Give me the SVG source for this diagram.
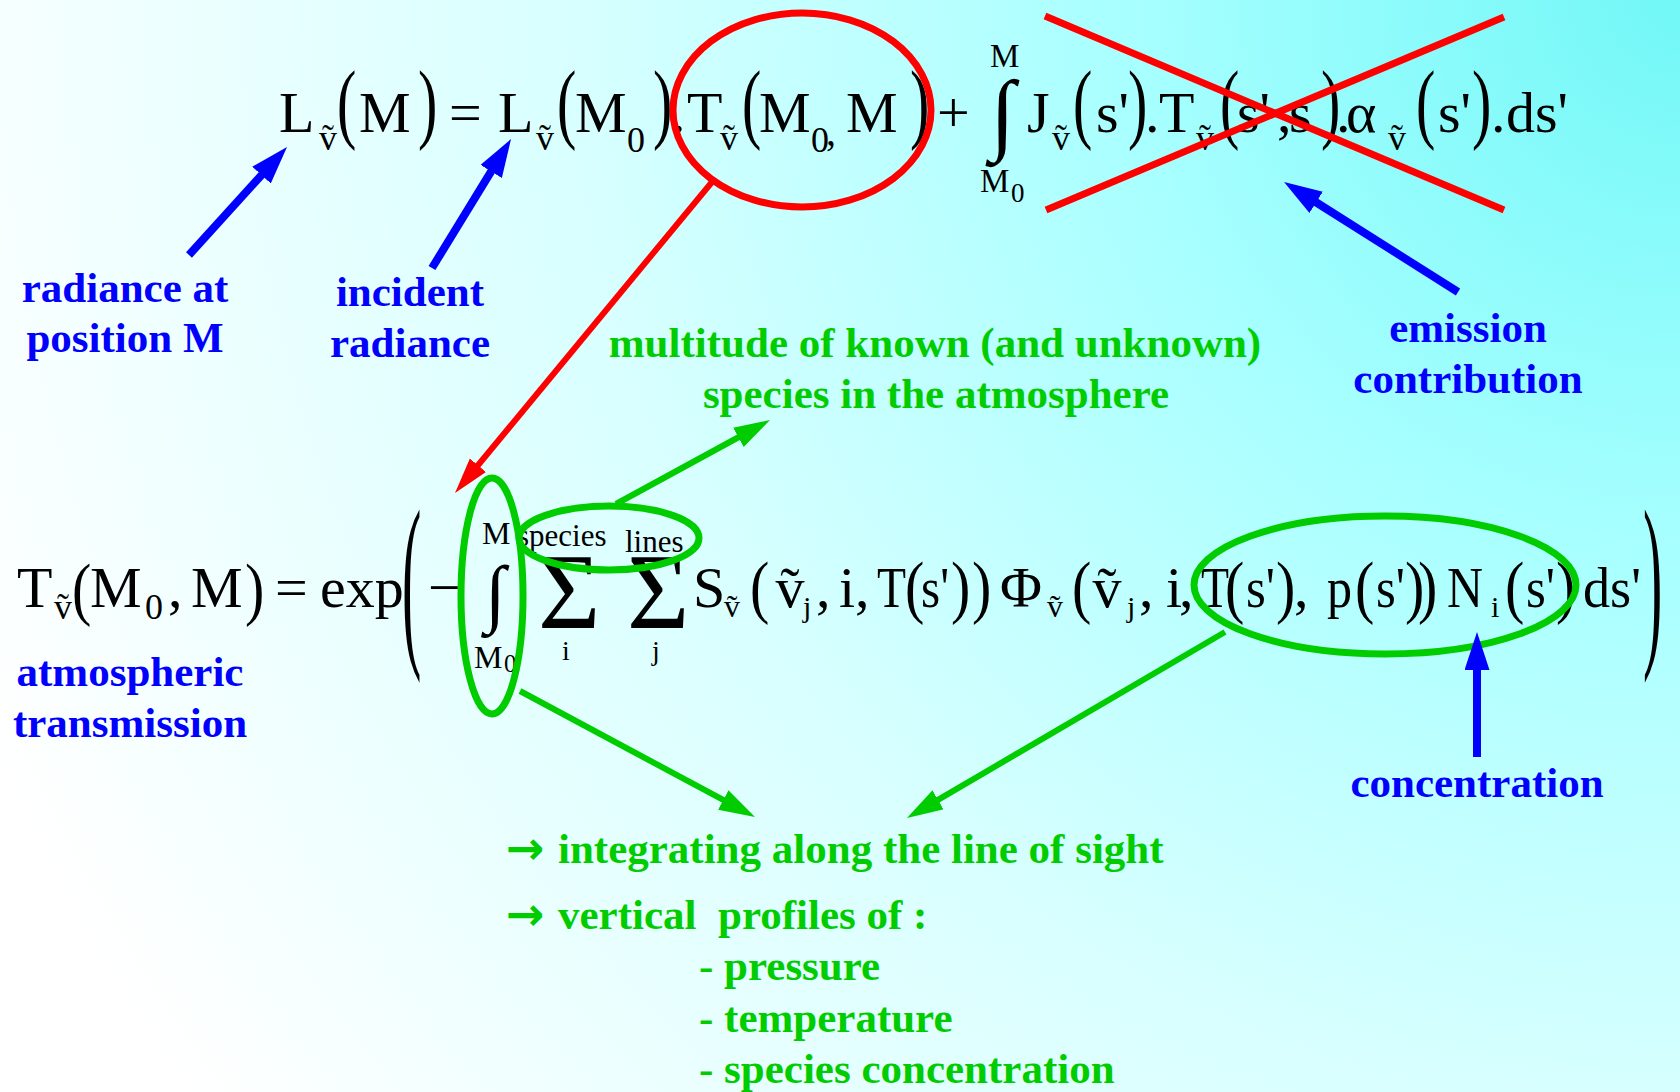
<svg xmlns="http://www.w3.org/2000/svg" width="1680" height="1092" viewBox="0 0 1680 1092">
<defs>
<radialGradient id="bg" gradientUnits="userSpaceOnUse" cx="1680" cy="0" r="1850">
<stop offset="0" stop-color="#72f7f7"/>
<stop offset="0.3" stop-color="#a8ffff"/>
<stop offset="0.6" stop-color="#d8ffff"/>
<stop offset="1" stop-color="#ffffff"/>
</radialGradient>
<marker id="ab" markerUnits="userSpaceOnUse" markerWidth="40" markerHeight="26" refX="10" refY="12.5" orient="auto"><path d="M0,0 L38,12.5 L0,25 z" fill="#0000ff"/></marker>
<marker id="ar" markerUnits="userSpaceOnUse" markerWidth="38" markerHeight="22" refX="10" refY="10.5" orient="auto"><path d="M0,0 L36,10.5 L0,21 z" fill="#ff0000"/></marker>
<marker id="ag" markerUnits="userSpaceOnUse" markerWidth="38" markerHeight="24" refX="10" refY="11" orient="auto"><path d="M0,0 L36,11 L0,22 z" fill="#00cc00"/></marker>
</defs>
<style>
.m{font-family:"Liberation Serif","Times New Roman",serif;font-size:58px;fill:#000}
.s{font-size:36px}
.l{font-size:30px}
.lb{font-family:"Liberation Serif","Times New Roman",serif;font-weight:bold;font-size:43px;text-anchor:middle}
.ls{font-family:"Liberation Serif","Times New Roman",serif;font-weight:bold;font-size:43px}
.ar{font-family:"DejaVu Sans",sans-serif;font-weight:bold;font-size:46px}
.bl{fill:#0000ff}
.gr{fill:#00cc00}
.c{text-anchor:middle}
.bs{stroke:#0000ff;stroke-width:8;fill:none}
.rs{stroke:#ff0000;stroke-width:6;fill:none}
.gs{stroke:#00cc00;stroke-width:6;fill:none}
</style>
<rect width="1680" height="1092" fill="url(#bg)"/>

<g id="eq-top" class="m">
<text x="279" y="132">L</text>
<text class="s c" x="328" y="150">v</text><text class="s c" x="328" y="150">˜</text>
<text transform="translate(337,109) scale(1,1.54)" y="15">(</text>
<text x="359" y="132">M</text>
<text transform="translate(418,109) scale(1,1.54)" y="15">)</text>
<text x="449" y="132">=</text>
<text x="498" y="132">L</text>
<text class="s c" x="545" y="150">v</text><text class="s c" x="545" y="150">˜</text>
<text transform="translate(557,109) scale(1,1.54)" y="15">(</text>
<text x="575" y="132">M</text>
<text class="s" x="627" y="152">0</text>
<text transform="translate(653,109) scale(1,1.54)" y="15">)</text>
<text x="671" y="132">.</text>
<text x="687" y="132">T</text>
<text class="s c" x="729" y="150">v</text><text class="s c" x="729" y="150">˜</text>
<text transform="translate(742,109) scale(1,1.54)" y="15">(</text>
<text x="759" y="132">M</text>
<text class="s" x="811" y="152">0</text>
<text x="826" y="145" style="font-size:40px">,</text>
<text x="846" y="132">M</text>
<text transform="translate(910,109) scale(1,1.54)" y="15">)</text>
<text x="937" y="132">+</text>
<text x="990" y="143" style="font-size:90px">∫</text>
<text x="990" y="67" style="font-size:33px">M</text>
<text x="980" y="192" style="font-size:33px">M</text><text x="1011" y="202" style="font-size:27px">0</text>
<text x="1027" y="132">J</text>
<text class="s c" x="1061" y="150">v</text><text class="s c" x="1061" y="150">˜</text>
<text transform="translate(1073,109) scale(1,1.54)" y="15">(</text>
<text x="1096" y="132">s'</text>
<text transform="translate(1128,109) scale(1,1.54)" y="15">)</text>
<text x="1145" y="132">.</text>
<text x="1159" y="132">T</text>
<text class="s c" x="1205" y="150">v</text><text class="s c" x="1205" y="150">˜</text>
<text transform="translate(1220,109) scale(1,1.54)" y="15">(</text>
<text x="1237" y="132">s'</text>
<text x="1277" y="132">,</text>
<text x="1289" y="132">s</text>
<text transform="translate(1321,109) scale(1,1.54)" y="15">)</text>
<text x="1336" y="132">.</text>
<text x="1346" y="132">α</text>
<text class="s c" x="1397" y="150">v</text><text class="s c" x="1397" y="150">˜</text>
<text transform="translate(1416,109) scale(1,1.54)" y="15">(</text>
<text x="1438" y="132">s'</text>
<text transform="translate(1472,109) scale(1,1.54)" y="15">)</text>
<text x="1491" y="132">.</text>
<text x="1506" y="132">ds'</text>
</g>

<g id="eq-bottom" class="m">
<text x="17" y="607">T</text>
<text class="s c" x="63" y="619">v</text><text class="s c" x="63" y="619">˜</text>
<text transform="translate(72,594) scale(1,1.2)" y="15">(</text>
<text x="90" y="607">M</text>
<text class="s" x="145" y="619">0</text>
<text x="168" y="607">,</text>
<text x="191" y="607">M</text>
<text transform="translate(245,594) scale(1,1.2)" y="15">)</text>
<text x="275" y="607">=</text>
<text x="320" y="607">exp</text>
<text transform="translate(402,593) scale(1,3.29)" y="15">(</text>
<text x="428" y="607">−</text>
<text x="485" y="618" style="font-size:75px">∫</text>
<text x="482" y="544" style="font-size:32px">M</text>
<text x="474" y="668" style="font-size:32px">M</text><text x="504" y="672" style="font-size:25px">0</text>
<text x="517" y="546" style="font-size:31px">species</text>
<text x="625" y="552" style="font-size:31px">lines</text>
<text x="538" y="628" style="font-size:107px">Σ</text>
<text class="c" x="566" y="660" style="font-size:28px">i</text>
<text x="627" y="628" style="font-size:107px">Σ</text>
<text class="c" x="656" y="660" style="font-size:28px">j</text>
<text x="693" y="607">S</text>
<text class="c" x="732" y="617" style="font-size:32px">v</text><text class="c" x="732" y="617" style="font-size:32px">˜</text>
<text transform="translate(750,592) scale(1,1.2)" y="15">(</text>
<text class="c" x="790" y="607">v</text><text class="c" x="790" y="607">˜</text>
<text class="l" x="803" y="617">j</text>
<text x="816" y="607">,</text>
<text x="839" y="607">i</text>
<text x="855" y="607">,</text>
<text x="877" y="607" textLength="29" lengthAdjust="spacingAndGlyphs">T</text>
<text transform="translate(905,592) scale(1,1.2)" y="15">(</text>
<text x="921" y="607" textLength="28" lengthAdjust="spacingAndGlyphs">s'</text>
<text transform="translate(951,592) scale(1,1.2)" y="15">)</text>
<text transform="translate(972,592) scale(1,1.2)" y="15">)</text>
<text x="1000" y="607" textLength="42" lengthAdjust="spacingAndGlyphs">Φ</text>
<text class="c" x="1055" y="617" style="font-size:32px">v</text><text class="c" x="1055" y="617" style="font-size:32px">˜</text>
<text transform="translate(1072,592) scale(1,1.2)" y="15">(</text>
<text class="c" x="1107" y="607">v</text><text class="c" x="1107" y="607">˜</text>
<text class="l" x="1127" y="617">j</text>
<text x="1139" y="607">,</text>
<text x="1166" y="607">i</text>
<text x="1179" y="607">,</text>
<text x="1201" y="607" textLength="28" lengthAdjust="spacingAndGlyphs">T</text>
<text transform="translate(1225,592) scale(1,1.2)" y="15">(</text>
<text x="1246" y="607" textLength="29" lengthAdjust="spacingAndGlyphs">s'</text>
<text transform="translate(1276,592) scale(1,1.2)" y="15">)</text>
<text x="1294" y="607">,</text>
<text x="1327" y="607" textLength="25" lengthAdjust="spacingAndGlyphs">p</text>
<text transform="translate(1355,592) scale(1,1.2)" y="15">(</text>
<text x="1376" y="607" textLength="29" lengthAdjust="spacingAndGlyphs">s'</text>
<text transform="translate(1405,592) scale(1,1.2)" y="15">)</text>
<text transform="translate(1418,592) scale(1,1.2)" y="15">)</text>
<text x="1447" y="607" textLength="36" lengthAdjust="spacingAndGlyphs">N</text>
<text class="l" x="1491" y="617">i</text>
<text transform="translate(1505,592) scale(1,1.2)" y="15">(</text>
<text x="1526" y="607" textLength="29" lengthAdjust="spacingAndGlyphs">s'</text>
<text transform="translate(1556,592) scale(1,1.2)" y="15">)</text>
<text x="1583" y="607" textLength="58" lengthAdjust="spacingAndGlyphs">ds'</text>
<text transform="translate(1643,593) scale(1,3.29)" y="15">)</text>
</g>

<g id="label-radiance-m" class="lb bl">
<text x="125" y="302">radiance at</text>
<text x="125" y="352">position M</text>
</g>
<g id="label-incident" class="lb bl">
<text x="410" y="306">incident</text>
<text x="410" y="357">radiance</text>
</g>
<g id="label-emission" class="lb bl">
<text x="1468" y="342">emission</text>
<text x="1468" y="393">contribution</text>
</g>
<g id="label-species" class="lb gr">
<text x="935" y="357">multitude of known (and unknown)</text>
<text x="936" y="408">species in the atmosphere</text>
</g>
<g id="label-transmission" class="lb bl">
<text x="130" y="686">atmospheric</text>
<text x="130" y="737">transmission</text>
</g>
<g id="label-concentration" class="lb bl">
<text x="1477" y="797">concentration</text>
</g>
<g id="label-list" class="ls gr">
<text class="ar" x="506" y="864">→</text>
<text x="558" y="863">integrating along the line of sight</text>
<text class="ar" x="506" y="930">→</text>
<text x="558" y="929">vertical&#160; profiles of :</text>
<text x="699" y="980">- pressure</text>
<text x="699" y="1032">- temperature</text>
<text x="699" y="1083">- species concentration</text>
</g>

<g id="marks">
<ellipse cx="802" cy="110" rx="129" ry="97" fill="none" stroke="#ff0000" stroke-width="7"/>
<line x1="1045" y1="16" x2="1504" y2="210" stroke="#ff0000" stroke-width="7"/>
<line x1="1046" y1="210" x2="1504" y2="17" stroke="#ff0000" stroke-width="7"/>
<ellipse cx="492" cy="596" rx="31" ry="118" fill="none" stroke="#00cc00" stroke-width="7"/>
<ellipse cx="609" cy="538" rx="90" ry="32" fill="none" stroke="#00cc00" stroke-width="7"/>
<ellipse cx="1385" cy="585" rx="191" ry="69" fill="none" stroke="#00cc00" stroke-width="7"/>
</g>

<g id="connectors">
<line class="bs" x1="189" y1="255" x2="268.2" y2="167.7" marker-end="url(#ab)"/>
<line class="bs" x1="432" y1="268" x2="496.4" y2="162.9" marker-end="url(#ab)"/>
<line class="bs" x1="1458" y1="292" x2="1307.7" y2="197" marker-end="url(#ab)"/>
<line class="bs" x1="1477" y1="757" x2="1477" y2="660" marker-end="url(#ab)"/>
<line class="rs" x1="712" y1="182" x2="471.6" y2="473" marker-end="url(#ar)"/>
<line class="gs" x1="616" y1="504" x2="747.2" y2="432.5" marker-end="url(#ag)"/>
<line class="gs" x1="520" y1="691" x2="732.1" y2="804.7" marker-end="url(#ag)"/>
<line class="gs" x1="1225" y1="632" x2="929.4" y2="804.9" marker-end="url(#ag)"/>
</g>
</svg>
